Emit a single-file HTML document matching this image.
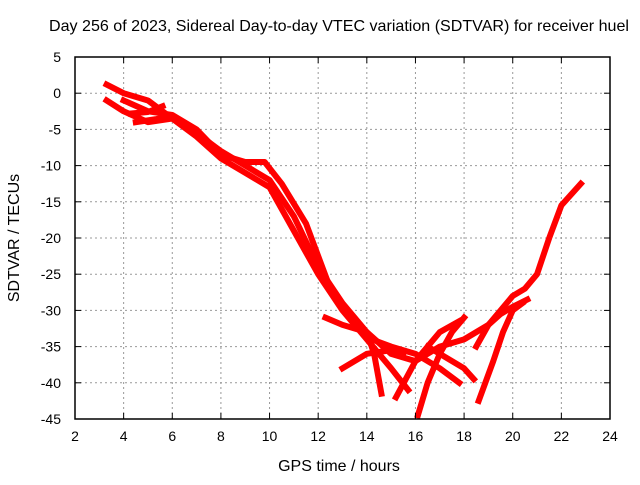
<!DOCTYPE html>
<html><head><meta charset="utf-8"><style>
body{margin:0;background:#fff}
svg text{font-family:"Liberation Sans",sans-serif;font-size:14px;fill:#000}
</style></head><body>
<svg id="chart" width="640" height="480">
<rect width="640" height="480" fill="#fff"/>
<text x="339" y="31" text-anchor="middle" style="font-size:16px" textLength="580" lengthAdjust="spacingAndGlyphs">Day 256 of 2023, Sidereal Day-to-day VTEC variation (SDTVAR) for receiver huel</text>
<text x="339" y="471" text-anchor="middle" style="font-size:16px">GPS time / hours</text>
<text transform="translate(19,238) rotate(-90)" text-anchor="middle" style="font-size:16px">SDTVAR / TECUs</text>
<g id="grid"></g><g id="series"></g><g id="axes"></g>
</svg>
<script>
const xTicks=[2,4,6,8,10,12,14,16,18,20,22,24];
const yTicks=[5,0,-5,-10,-15,-20,-25,-30,-35,-40,-45];
const trackMain=[[3.3,1.2],[4,0],[5,-1],[6,-3.5],[7,-5.5],[8,-8],[9,-10],[10,-12],[11,-17],[12,-24],[13,-29],[14,-33],[15,-36],[16,-37],[17,-35],[18,-34],[19,-32],[20,-28],[20.5,-27],[21,-25],[21.5,-20],[22,-15.5],[22.8,-12.5]];
const trackB=[[3.3,-1],[4,-2.5],[5,-4],[6,-3.5],[7,-6],[8,-9],[9,-11],[10,-13],[11,-19],[12,-25],[13,-30],[14,-34],[15,-38],[15.7,-41]];
const trackC=[[4,-1],[5,-2.5],[6,-3],[7,-5],[8,-8.5],[9,-9.5],[9.8,-9.5],[10.5,-12.5],[11.5,-18],[12.5,-27],[13.5,-32],[14.2,-34],[15,-35],[16,-36],[17,-38],[17.8,-40]];
const trackD=[[12.3,-31],[13,-32],[14,-33],[14.3,-36],[14.6,-41.5]];
const trackE=[[13,-38],[14,-36],[15,-35.5],[15.5,-36]];
const trackF=[[16.1,-44.5],[16.5,-40],[17,-36],[17.5,-33],[18,-31]];
const trackG=[[15.2,-42],[16,-37],[17,-33],[17.8,-31.5]];
const trackH=[[16.5,-35],[17,-36],[18,-38],[18.4,-39.5]];
const trackI=[[18.6,-42.5],[19.2,-37],[19.6,-33],[20,-30],[20.4,-29]];
const trackJ=[[18.5,-35],[19,-32],[19.5,-30.5],[20,-29.5],[20.6,-28.5]];
const trackK=[[4.3,-2.8],[5,-2.6],[5.6,-1.8]];
const trackL=[[4.5,-4],[5.3,-3.6],[5.9,-3.2]];
const tracks=[trackMain,trackB,trackC,trackD,trackE,trackF,trackG,trackH,trackI,trackJ,trackK,trackL];
const L=75,R=610,T=57,B=419;
const sx=v=>L+(v-2)/(24-2)*(R-L);
const sy=v=>T+(5-v)/(5+45)*(B-T);
const NS="http://www.w3.org/2000/svg";
function mk(tag,attrs,parent){const e=document.createElementNS(NS,tag);for(const k in attrs)e.setAttribute(k,attrs[k]);parent.appendChild(e);return e;}
const grid=document.getElementById('grid'),axes=document.getElementById('axes'),ser=document.getElementById('series');
xTicks.forEach(t=>{const x=sx(t);
 if(t>2&&t<24){const g=mk('line',{x1:x,x2:x,y1:T,y2:B,stroke:'#999','stroke-dasharray':'2,3'},grid);
 
 }
 mk('line',{x1:x,x2:x,y1:B,y2:B-6,stroke:'#000'},axes);mk('line',{x1:x,x2:x,y1:T,y2:T+6,stroke:'#000'},axes);
 const tx=mk('text',{x:x,y:B+22,'text-anchor':'middle'},axes);tx.textContent=t;
 
 });
yTicks.forEach(t=>{const y=sy(t);
 if(t<5&&t>-45){const g=mk('line',{x1:L,x2:R,y1:y,y2:y,stroke:'#999','stroke-dasharray':'2,3'},grid);
 
 }
 mk('line',{x1:L,x2:L+6,y1:y,y2:y,stroke:'#000'},axes);mk('line',{x1:R,x2:R-6,y1:y,y2:y,stroke:'#000'},axes);
 const tx=mk('text',{x:L-14,y:y+5,'text-anchor':'end'},axes);tx.textContent=t;
 
 });
const frame=mk('rect',{x:L,y:T,width:R-L,height:B-T,fill:'none',stroke:'#000','stroke-width':1.5},axes);


tracks.forEach((tr,i)=>{
 const p=mk('polyline',{points:tr.map(d=>sx(d[0])+','+sy(d[1])).join(' '),fill:'none',stroke:'#f00','stroke-width':6,'stroke-linejoin':'round','stroke-linecap':'square'},ser);
 
 
});
</script>
</body></html>
